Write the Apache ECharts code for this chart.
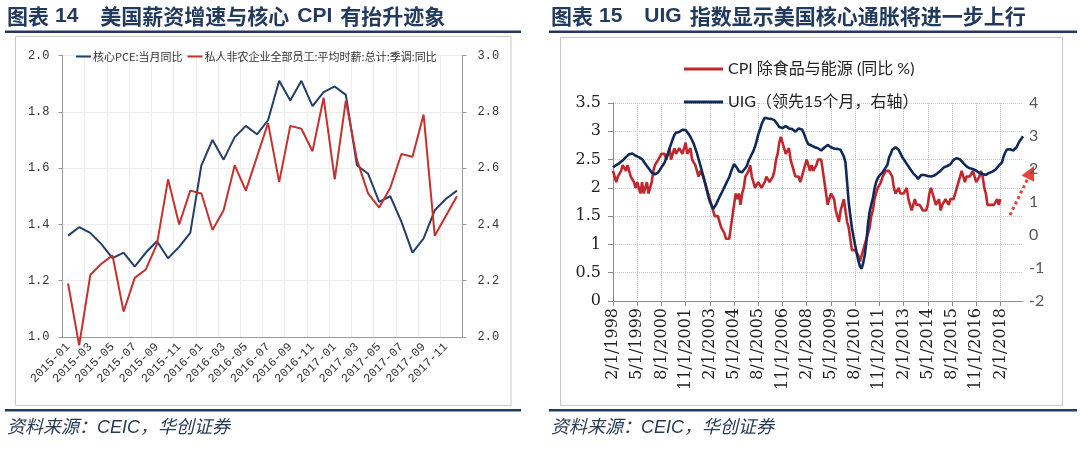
<!DOCTYPE html>
<html><head><meta charset="utf-8">
<script src="https://cdn.jsdelivr.net/npm/echarts@6/dist/echarts.min.js"></script>
<style>html,body{margin:0;padding:0;background:#fff;}#c{width:1080px;height:451px;}</style>
</head><body><div id="c"></div>
<script>
// ---------- Left chart (图表14) ----------
const leftStartYear = 2015, leftStartMonth = 1, leftMonths = 36;
const pceCore = [1.36,1.39,1.37,1.33,1.28,1.30,1.25,1.30,1.34,1.28,1.32,1.37,
  1.61,1.70,1.63,1.71,1.75,1.72,1.77,1.91,1.84,1.91,1.82,1.87,
  1.89,1.86,1.61,1.58,1.48,1.50,1.41,1.30,1.35,1.45,1.49,1.52];
const wageYoY = [2.19,1.97,2.22,2.26,2.29,2.09,2.21,2.24,2.33,2.56,2.40,2.52,
  2.51,2.38,2.45,2.61,2.52,2.64,2.76,2.55,2.75,2.74,2.66,2.85,
  2.56,2.84,2.63,2.51,2.46,2.53,2.65,2.64,2.79,2.36,2.43,2.50];
const leftNames = ['核心PCE:当月同比','私人非农企业全部员工:平均时薪:总计:季调:同比'];

// ---------- Right chart (图表15) ----------
const rightStartYear = 1998, rightStartMonth = 2, rightMonths = 255;
const cpiCore = [
 2.3,2.2,2.1,2.2,2.2,2.3,2.4,2.4,2.3,2.4,2.3,2.2,2.2,2.1,2.0,2.1,2.0,1.9,2.1,1.9,
 2.0,2.1,1.9,2.0,2.1,2.3,2.4,2.4,2.5,2.5,2.6,2.6,2.6,2.5,2.6,2.7,2.5,2.6,2.7,2.6,
 2.6,2.7,2.7,2.6,2.7,2.8,2.6,2.6,2.7,2.5,2.5,2.4,2.3,2.2,2.3,2.3,2.2,2.1,2.0,1.9,
 1.8,1.7,1.6,1.5,1.5,1.5,1.4,1.3,1.3,1.2,1.1,1.1,1.1,1.3,1.5,1.7,1.9,1.8,1.9,1.7,
 1.9,2.0,2.2,2.2,2.3,2.4,2.2,2.1,2.0,2.0,2.1,2.1,2.0,2.0,2.1,2.2,2.2,2.1,2.1,2.2,
 2.3,2.5,2.6,2.8,2.9,2.8,2.7,2.6,2.6,2.7,2.5,2.4,2.3,2.2,2.2,2.2,2.1,2.2,2.3,2.4,
 2.5,2.4,2.3,2.4,2.3,2.3,2.4,2.5,2.5,2.5,2.3,2.1,1.9,1.7,1.8,1.9,1.9,1.8,1.6,1.5,
 1.4,1.6,1.7,1.8,1.8,1.4,1.3,1.1,0.9,0.9,0.9,0.9,0.8,0.7,0.8,0.9,1.0,1.1,1.2,1.3,
 1.5,1.6,1.8,1.9,2.0,2.0,2.1,2.2,2.2,2.3,2.3,2.3,2.3,2.2,2.0,1.9,1.9,2.0,1.9,1.9,
 1.9,1.9,2.0,1.8,1.7,1.6,1.7,1.8,1.7,1.7,1.7,1.7,1.6,1.6,1.6,1.7,1.9,2.0,1.9,1.8,
 1.7,1.7,1.8,1.6,1.7,1.7,1.8,1.8,1.7,1.8,1.8,1.8,1.9,2.0,2.1,2.2,2.3,2.2,2.1,2.2,
 2.2,2.2,2.2,2.3,2.2,2.1,2.1,2.2,2.3,2.2,2.0,1.9,1.7,1.7,1.7,1.7,1.7,1.7,1.8,1.7,
 1.8];
const uigLead = [
 2.05,2.08,2.12,2.15,2.18,2.22,2.26,2.30,2.36,2.41,2.45,2.48,2.47,2.42,2.40,2.37,2.36,2.34,2.30,2.24,
 2.16,2.09,2.03,1.96,1.89,1.85,1.84,1.86,1.90,1.97,2.05,2.12,2.20,2.33,2.46,2.62,2.76,2.90,3.03,3.10,
 3.13,3.12,3.15,3.19,3.21,3.18,3.13,3.05,2.97,2.87,2.77,2.62,2.48,2.30,2.13,1.95,1.77,1.57,1.37,1.18,
 1.01,0.90,0.79,0.85,0.94,1.05,1.15,1.25,1.35,1.45,1.55,1.65,1.75,1.90,2.03,2.15,2.18,2.02,1.93,1.88,
 1.90,1.95,2.03,2.10,2.25,2.35,2.41,2.55,2.68,2.85,3.05,3.18,3.35,3.46,3.55,3.57,3.53,3.50,3.52,3.52,
 3.48,3.44,3.35,3.27,3.21,3.24,3.26,3.30,3.28,3.23,3.22,3.21,3.17,3.13,3.18,3.23,3.26,3.20,3.11,2.98,
 2.85,2.75,2.72,2.71,2.69,2.66,2.65,2.63,2.60,2.56,2.60,2.65,2.70,2.73,2.70,2.66,2.64,2.62,2.61,2.61,
 2.61,2.58,2.53,2.38,2.20,1.62,1.00,0.59,0.22,-0.05,-0.30,-0.55,-0.78,-0.95,-1.02,-0.85,-0.60,-0.20,0.35,0.70,
 0.92,1.12,1.40,1.60,1.72,1.80,1.86,1.90,1.96,2.05,2.12,2.35,2.45,2.58,2.63,2.66,2.64,2.58,2.48,2.38,
 2.30,2.23,2.15,2.08,2.01,1.94,1.87,1.82,1.77,1.70,1.76,1.82,1.84,1.82,1.80,1.79,1.78,1.77,1.75,1.80,
 1.85,1.87,1.90,1.95,2.00,2.05,2.10,2.09,2.08,2.14,2.20,2.28,2.34,2.33,2.31,2.29,2.26,2.18,2.12,2.08,
 2.04,2.02,2.01,2.00,1.97,1.95,1.91,1.88,1.86,1.85,1.83,1.82,1.85,1.88,1.90,1.92,1.95,1.98,2.03,2.10,
 2.15,2.20,2.38,2.50,2.59,2.61,2.60,2.56,2.56,2.60,2.66,2.76,2.85,2.92,2.99];
const rightNames = ['CPI 除食品与能源 (同比 %)','UIG（领先15个月，右轴）'];

// categories
const leftCats = [];
for (let k = 0; k < leftMonths; k++) {
  const m = (leftStartMonth - 1 + k) % 12 + 1, y = leftStartYear + Math.floor((leftStartMonth - 1 + k) / 12);
  leftCats.push(y + '-' + (m < 10 ? '0' + m : m));
}
const rightCats = [];
for (let k = 0; k < rightMonths; k++) {
  const m = (rightStartMonth - 1 + k) % 12 + 1, y = rightStartYear + Math.floor((rightStartMonth - 1 + k) / 12);
  rightCats.push(m + '/1/' + y);
}

const navy = '#223a5e';
const cjk = '"Noto Sans CJK SC"';
const chart = echarts.init(document.getElementById('c'), null, {renderer: 'canvas'});

function titleText(x, num, t1, latin, t2) {
  return {
    type: 'text', x: x, y: 16,
    style: {
      text: '{a|图表}{s1| }{b|' + num + '}{s2| }{a|' + t1 + '}{s3| }{b|' + latin + '}{s3| }{a|' + t2 + '}',
      verticalAlign: 'middle',
      rich: {
        a: {fontFamily: cjk, fontSize: 21, fontWeight: 'bold', fill: navy},
        b: {fontFamily: '"Liberation Sans", Arial', fontSize: 21, fontWeight: 'bold', fill: navy},
        s1: {fontSize: 21, width: 6},
        s2: {fontSize: 21, width: t1 ? 22 : 22},
        s3: {fontSize: 21, width: t1 ? 8 : 0}
      }
    }
  };
}

const option = {
  animation: false,
  backgroundColor: '#fff',
  graphic: [
    titleText(7, '14', '美国薪资增速与核心', 'CPI', '有抬升迹象'),
    {type: 'text', x: 551, y: 16, style: {
      text: '{a|图表}{s1| }{b|15}{s2| }{b|UIG}{s3| }{a|指数显示美国核心通胀将进一步上行}',
      verticalAlign: 'middle',
      rich: {
        a: {fontFamily: cjk, fontSize: 21, fontWeight: 'bold', fill: navy},
        b: {fontFamily: '"Liberation Sans", Arial', fontSize: 21, fontWeight: 'bold', fill: navy},
        s1: {fontSize: 21, width: 6}, s2: {fontSize: 21, width: 22}, s3: {fontSize: 21, width: 8}
      }}},
    {type: 'rect', shape: {x: 5, y: 30.5, width: 516, height: 2.5}, style: {fill: navy}},
    {type: 'rect', shape: {x: 549, y: 30.5, width: 528, height: 2.5}, style: {fill: navy}},
    {type: 'rect', shape: {x: 15.5, y: 36.5, width: 495.5, height: 369}, style: {fill: 'none', stroke: '#c8c8c8', lineWidth: 1}},
    {type: 'rect', shape: {x: 560.5, y: 37.5, width: 502, height: 368}, style: {fill: 'none', stroke: '#c8c8c8', lineWidth: 1}},
    {type: 'rect', shape: {x: 5, y: 409, width: 516, height: 2.5}, style: {fill: navy}},
    {type: 'rect', shape: {x: 549, y: 409, width: 528, height: 2.5}, style: {fill: navy}},
    {type: 'text', x: 7, y: 428, style: {text: '资料来源：CEIC，华创证券', verticalAlign: 'middle',
      font: 'italic 18px "Liberation Sans", "Noto Sans CJK SC"', fill: '#2a3a55'}},
    {type: 'text', x: 551, y: 428, style: {text: '资料来源：CEIC，华创证券', verticalAlign: 'middle',
      font: 'italic 18px "Liberation Sans", "Noto Sans CJK SC"', fill: '#2a3a55'}},
    // annotation arrow
    {type: 'line', shape: {x1: 1010, y1: 215, x2: 1027.8, y2: 178.6},
      style: {stroke: '#e8433a', lineWidth: 3, lineDash: [3, 3]}},
    {type: 'polygon', shape: {points: [[1034, 166], [1034.1, 181.7], [1021.5, 175.5]]},
      style: {fill: '#e8433a'}}
  ],
  legend: [
    {data: leftNames, left: 71, top: 46, orient: 'horizontal', icon: 'rect', itemWidth: 15, itemHeight: 2, itemGap: 5,
      textStyle: {fontFamily: cjk, fontSize: 11, color: '#333', padding: [0, 0, 0, -3]}},
    {data: rightNames, left: 679, top: 54, orient: 'vertical', icon: 'rect', itemWidth: 39, itemHeight: 3, itemGap: 13,
      textStyle: {fontFamily: 'Lato, "Noto Sans CJK SC"', fontSize: 16, color: '#222', lineHeight: 20}}
  ],
  grid: [
    {left: 62.5, top: 55.5, width: 400, height: 281.5},
    {left: 613, top: 103, width: 410, height: 198}
  ],
  xAxis: [
    {gridIndex: 0, type: 'category', boundaryGap: true, data: leftCats,
      axisLine: {lineStyle: {color: '#9a9a9a'}},
      axisTick: {interval: 1, length: 5, lineStyle: {color: '#9a9a9a'}},
      axisLabel: {interval: 1, rotate: 45, fontFamily: '"Liberation Mono"', fontSize: 12, color: '#333', margin: 8},
      splitLine: {show: true, interval: 1, lineStyle: {color: '#efefef'}}},
    {gridIndex: 1, type: 'category', boundaryGap: false, data: rightCats,
      axisLine: {lineStyle: {color: '#8c8c8c'}},
      axisTick: {interval: 14, length: 5, lineStyle: {color: '#8c8c8c'}},
      axisLabel: {interval: 14, rotate: 90, fontFamily: '"DejaVu Serif"', fontSize: 16, color: '#222', margin: 7},
      splitLine: {show: true, interval: 14, lineStyle: {type: 'dotted', color: '#c8c8c8'}}}
  ],
  yAxis: [
    {gridIndex: 0, type: 'value', min: 1, max: 2, interval: 0.2, position: 'left',
      axisLine: {show: true, lineStyle: {color: '#9a9a9a'}},
      axisTick: {show: true, length: 4, lineStyle: {color: '#9a9a9a'}},
      axisLabel: {formatter: v => v.toFixed(1), fontFamily: '"Liberation Mono"', fontSize: 12, color: '#333', margin: 13},
      splitLine: {lineStyle: {color: '#ececec'}}},
    {gridIndex: 0, type: 'value', min: 2, max: 3, interval: 0.2, position: 'right',
      axisLine: {show: true, lineStyle: {color: '#9a9a9a'}},
      axisTick: {show: true, length: 4, lineStyle: {color: '#9a9a9a'}},
      axisLabel: {formatter: v => v.toFixed(1), fontFamily: '"Liberation Mono"', fontSize: 12, color: '#333', margin: 15},
      splitLine: {show: false}},
    {gridIndex: 1, type: 'value', min: 0, max: 3.5, interval: 0.5, position: 'left',
      axisLine: {show: true, lineStyle: {color: '#8c8c8c'}},
      axisTick: {show: true, length: 5, lineStyle: {color: '#8c8c8c'}},
      axisLabel: {fontFamily: '"DejaVu Serif"', fontSize: 16, color: '#222', margin: 12},
      splitLine: {lineStyle: {type: 'dotted', color: '#c8c8c8'}}},
    {gridIndex: 1, type: 'value', min: -2, max: 4, interval: 1, position: 'right',
      axisLine: {show: false}, axisTick: {show: false},
      axisLabel: {fontFamily: 'Lato, "Open Sans"', fontSize: 16, color: '#595959', margin: 6},
      splitLine: {show: false}}
  ],
  series: [
    {name: leftNames[0], type: 'line', xAxisIndex: 0, yAxisIndex: 0, data: pceCore, symbol: 'none',
      lineStyle: {width: 2, color: '#243e6a'}, itemStyle: {color: '#243e6a'}},
    {name: leftNames[1], type: 'line', xAxisIndex: 0, yAxisIndex: 1, data: wageYoY, symbol: 'none', clip: false,
      lineStyle: {width: 2, color: '#c3332e'}, itemStyle: {color: '#c3332e'}},
    {name: rightNames[0], type: 'line', xAxisIndex: 1, yAxisIndex: 2, data: cpiCore, symbol: 'none',
      lineStyle: {width: 2.6, color: '#c0282d'}, itemStyle: {color: '#c0282d'}},
    {name: rightNames[1], type: 'line', xAxisIndex: 1, yAxisIndex: 3, data: uigLead, symbol: 'none',
      lineStyle: {width: 2.6, color: '#0f2a5a'}, itemStyle: {color: '#0f2a5a'}}
  ]
};
chart.setOption(option);
</script>
</body></html>
